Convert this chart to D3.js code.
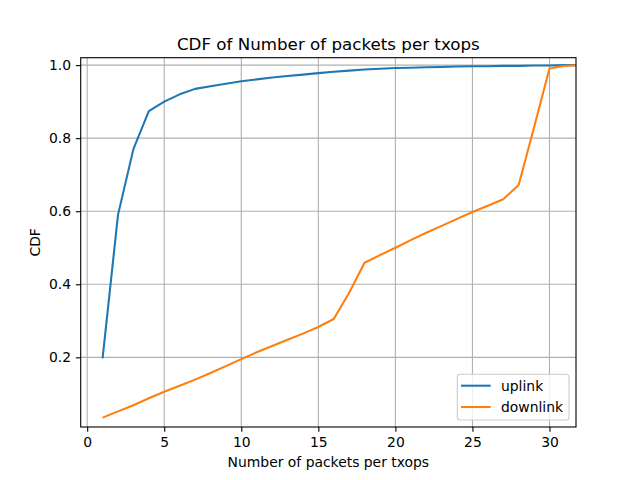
<!DOCTYPE html>
<html><head><meta charset="utf-8">
<script src="https://cdn.jsdelivr.net/npm/d3@7"></script>
<style>body{margin:0;background:#fff}svg{display:block}text{font-family:"DejaVu Sans",sans-serif}</style>
</head><body>
<svg id="c" width="640" height="480"></svg>
<script>
const xs = d3.range(1, 33);
const uplink = [0.197,0.59,0.77,0.874,0.90,0.92,0.935,0.942,0.949,0.956,0.961,0.966,0.970,0.974,0.978,0.982,0.985,0.988,0.990,0.992,0.993,0.994,0.995,0.996,0.997,0.997,0.998,0.998,0.999,0.999,1.0,1.0];
const downlink = [0.035,0.052,0.069,0.088,0.106,0.122,0.139,0.157,0.176,0.195,0.214,0.231,0.248,0.265,0.283,0.305,0.377,0.459,0.480,0.500,0.521,0.541,0.560,0.579,0.598,0.615,0.633,0.672,0.83,0.991,0.998,1.0];
const seriesNames = ["uplink","downlink"];
const colors = ["#1f77b4","#ff7f0e"];
const xTicks = [0,5,10,15,20,25,30];
const yTicks = [0.2,0.4,0.6,0.8,1.0];

const svg = d3.select("#c");
const L=80.7, R=576, T=57.7, B=427;
const x = d3.scaleLinear().domain([-0.42,31.72]).range([L,R]);
const y = d3.scaleLinear().domain([0.0093,1.0203]).range([B,T]);
const fs = 13.9;

// grid
const g = svg.append("g");
g.selectAll(".gx").data(xTicks).join("line").attr("x1",d=>x(d)).attr("x2",d=>x(d)).attr("y1",T).attr("y2",B).attr("stroke","#b0b0b0").attr("stroke-width",1.1);
g.selectAll(".gy").data(yTicks).join("line").attr("y1",d=>y(d)).attr("y2",d=>y(d)).attr("x1",L).attr("x2",R).attr("stroke","#b0b0b0").attr("stroke-width",1.1);

svg.append("clipPath").attr("id","clip").append("rect").attr("x",L).attr("y",T).attr("width",R-L).attr("height",B-T);
const line = d3.line().x((d,i)=>x(xs[i])).y(d=>y(d));
[uplink, downlink].forEach((s,k)=>{
  svg.append("path").attr("d",line(s)).attr("fill","none").attr("stroke",colors[k]).attr("stroke-width",2.08).attr("stroke-linejoin","round").attr("clip-path","url(#clip)");
});

// axes
const xa = svg.append("g").attr("transform",`translate(0,${B})`).call(d3.axisBottom(x).tickValues(xTicks).tickFormat(d3.format("d")).tickSize(4.86).tickSizeOuter(0).tickPadding(4.86));
const ya = svg.append("g").attr("transform",`translate(${L},0)`).call(d3.axisLeft(y).tickValues(yTicks).tickFormat(d3.format(".1f")).tickSize(4.86).tickSizeOuter(0).tickPadding(4.86));
[xa,ya].forEach(a=>{a.select(".domain").remove();a.selectAll("line").attr("stroke","#000").attr("stroke-width",1.1);a.selectAll("text").attr("font-size",fs).attr("fill","#000").style("font-family","DejaVu Sans");});
svg.append("rect").attr("x",L).attr("y",T).attr("width",R-L).attr("height",B-T).attr("fill","none").attr("stroke","#000").attr("stroke-width",1.1);

// labels
svg.append("text").attr("x",(L+R)/2).attr("y",49.5).attr("text-anchor","middle").attr("font-size",16.7).text("CDF of Number of packets per txops");
svg.append("text").attr("x",(L+R)/2).attr("y",467).attr("text-anchor","middle").attr("font-size",fs).text("Number of packets per txops");
svg.append("text").attr("transform",`translate(40,${(T+B)/2}) rotate(-90)`).attr("text-anchor","middle").attr("font-size",fs).text("CDF");

// legend
const lg = svg.append("g");
lg.append("rect").attr("x",457.3).attr("y",374.3).attr("width",111.7).attr("height",45.7).attr("rx",3).attr("fill","#fff").attr("fill-opacity",0.8).attr("stroke","#cccccc").attr("stroke-width",1.1);
seriesNames.forEach((n,k)=>{
  const yy = 385.7 + k*21.3;
  lg.append("line").attr("x1",461).attr("x2",490.7).attr("y1",yy).attr("y2",yy).attr("stroke",colors[k]).attr("stroke-width",2.08);
  lg.append("text").attr("x",501).attr("y",yy).attr("dy","0.35em").attr("font-size",fs).text(n);
});
</script>
</body></html>
